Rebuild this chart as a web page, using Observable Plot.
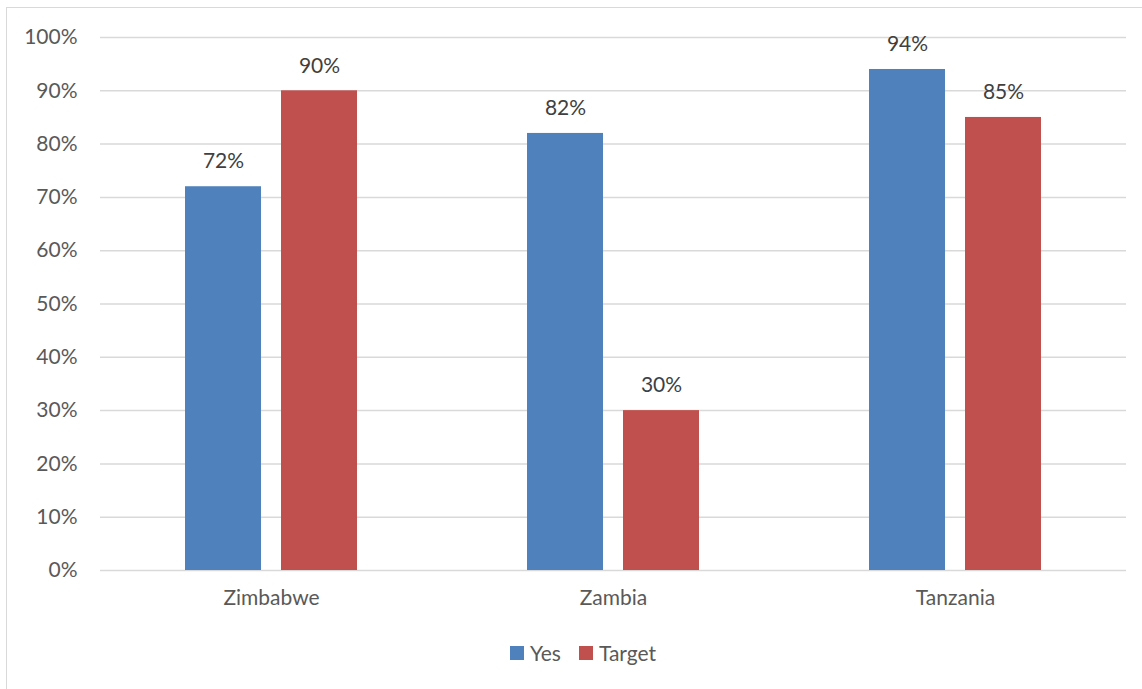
<!DOCTYPE html>
<html>
<head>
<meta charset="utf-8">
<script src="https://cdn.jsdelivr.net/npm/d3@7"></script>
<script src="https://cdn.jsdelivr.net/npm/@observablehq/plot@0.6"></script>
<style>
  html, body { margin: 0; padding: 0; background: #fff; }
  body { width: 1142px; height: 689px; position: relative; overflow: hidden; font-family: Lato, "Open Sans", sans-serif; }
  #frame { position: absolute; left: 6px; top: 7px; width: 1150px; height: 700px; border-left: 1.5px solid #d9d9d9; border-top: 1.5px solid #d9d9d9; box-sizing: border-box; }
  #chart { position: absolute; left: 0; top: 0; }
  #legend { position: absolute; top: 640px; left: 0; width: 1142px; display: flex; justify-content: center; align-items: center; font-size: 21px; color: #595959; padding-left: 24px; box-sizing: border-box; }
  .item { display: flex; align-items: center; margin: 0 9px; }
  .sw { width: 14px; height: 14px; margin-right: 6px; }
</style>
</head>
<body>
<div id="frame"></div>
<div id="chart"></div>
<div id="legend"></div>
<script>
const countries = ["Zimbabwe", "Zambia", "Tanzania"];
const seriesNames = ["Yes", "Target"];
const yesValues = [0.72, 0.82, 0.94];
const targetValues = [0.90, 0.30, 0.85];
const colors = ["#4F81BD", "#C0504D"];
const yTicks = [0, 0.1, 0.2, 0.3, 0.4, 0.5, 0.6, 0.7, 0.8, 0.9, 1.0];

const data = [];
countries.forEach((c, i) => {
  data.push({country: c, series: "Yes", value: yesValues[i]});
  data.push({country: c, series: "Target", value: targetValues[i]});
});

const fmt = d => Math.round(d * 100) + "%";

const chart = Plot.plot({
  width: 1142,
  height: 630,
  marginLeft: 100,
  marginRight: 16,
  marginTop: 37,
  marginBottom: 60,
  style: {fontFamily: "Lato, 'Open Sans', sans-serif", fontSize: "21px", color: "#595959", background: "transparent"},
  fx: {domain: countries, padding: 0, label: null, axis: "bottom", tickSize: 0, tickPadding: 20},
  x: {domain: seriesNames, paddingInner: 0.206, paddingOuter: 0.866, axis: null},
  y: {domain: [0, 1], ticks: yTicks, tickFormat: fmt, label: null, tickSize: 0, tickPadding: 23},
  color: {domain: seriesNames, range: colors},
  marks: [
    Plot.gridY(yTicks, {stroke: "#d9d9d9", strokeOpacity: 1, strokeWidth: 1.5}),
    Plot.barY(data, {fx: "country", x: "series", y: "value", fill: "series"}),
    Plot.text(data, {fx: "country", x: "series", y: "value", text: d => fmt(d.value), dy: -25, fill: "#404040", fontSize: 21})
  ]
});
document.getElementById("chart").appendChild(chart);

const legend = document.getElementById("legend");
seriesNames.forEach((s, i) => {
  const it = document.createElement("div");
  it.className = "item";
  const sw = document.createElement("div");
  sw.className = "sw";
  sw.style.background = colors[i];
  const t = document.createElement("span");
  t.textContent = s;
  it.appendChild(sw);
  it.appendChild(t);
  legend.appendChild(it);
});
</script>
</body>
</html>
